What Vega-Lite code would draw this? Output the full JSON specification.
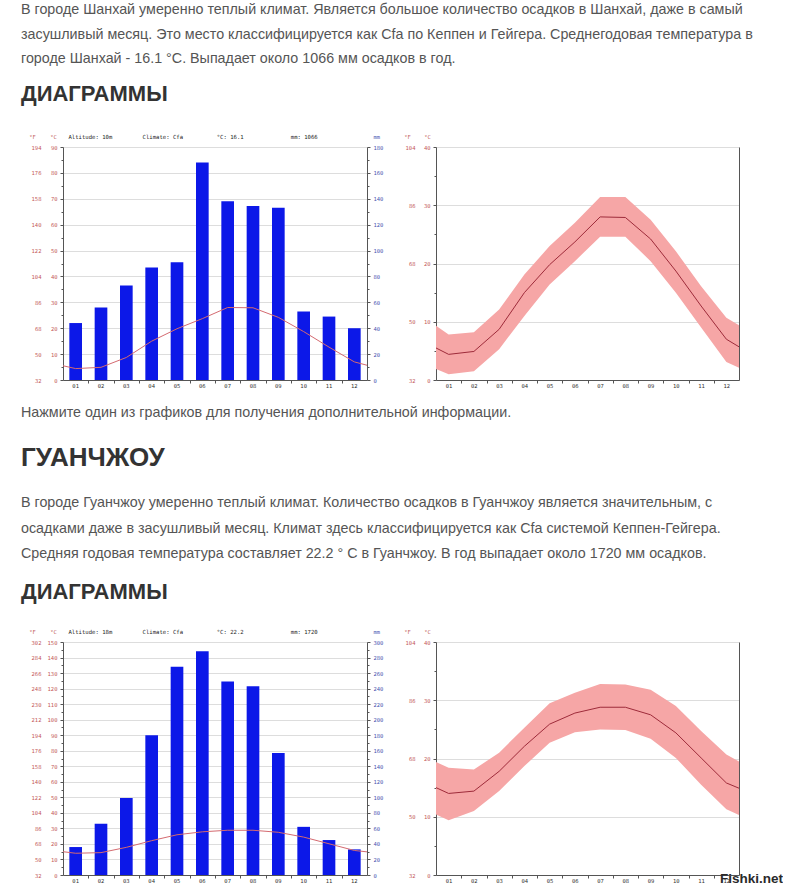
{
"$schema": "https://vega.github.io/schema/vega-lite/v6.json",
"background": "white",
"padding": {"left": 21, "top": 3, "right": 0, "bottom": 0},
"bounds": "flush",
"spacing": 495,
"title": {
  "text": ["В городе Шанхай умеренно теплый климат. Является большое количество осадков в Шанхай, даже в самый", "засушливый месяц. Это место классифицируется как Cfa по Кеппен и Гейгера. Среднегодовая температура в", "городе Шанхай - 16.1 °C. Выпадает около 1066 мм осадков в год."],
  "subtitle": "ДИАГРАММЫ",
  "anchor": "start", "frame": "group", "dx": -42, "offset": 29,
  "font": "Liberation Sans", "fontSize": 14.3, "fontWeight": "normal", "color": "#555555", "lineHeight": 24.6,
  "subtitleFont": "Liberation Sans", "subtitleFontSize": 22, "subtitleFontWeight": "bold", "subtitleColor": "#333333", "subtitlePadding": 17.5
},
"datasets": {
  "sh_p": [
    {"mon": "01", "prcp": 44}, {"mon": "02", "prcp": 56}, {"mon": "03", "prcp": 73}, {"mon": "04", "prcp": 87},
    {"mon": "05", "prcp": 91}, {"mon": "06", "prcp": 168}, {"mon": "07", "prcp": 138}, {"mon": "08", "prcp": 134.5},
    {"mon": "09", "prcp": 133}, {"mon": "10", "prcp": 53}, {"mon": "11", "prcp": 49}, {"mon": "12", "prcp": 40}
  ],
  "sh_t": [
    {"m": 0.5, "tmin": 1.9, "tmean": 5.5, "tmax": 9.3},
    {"m": 1, "tmin": 1.0, "tmean": 4.4, "tmax": 7.8},
    {"m": 2, "tmin": 1.5, "tmean": 4.9, "tmax": 8.2},
    {"m": 3, "tmin": 5.3, "tmean": 8.7, "tmax": 12.1},
    {"m": 4, "tmin": 11.0, "tmean": 15.0, "tmax": 18.1},
    {"m": 5, "tmin": 16.4, "tmean": 19.8, "tmax": 23.0},
    {"m": 6, "tmin": 20.4, "tmean": 23.7, "tmax": 27.0},
    {"m": 7, "tmin": 24.6, "tmean": 28.0, "tmax": 31.4},
    {"m": 8, "tmin": 24.6, "tmean": 27.9, "tmax": 31.4},
    {"m": 9, "tmin": 20.4, "tmean": 24.2, "tmax": 27.5},
    {"m": 10, "tmin": 15.0, "tmean": 18.7, "tmax": 22.1},
    {"m": 11, "tmin": 9.0, "tmean": 12.7, "tmax": 16.1},
    {"m": 12, "tmin": 3.1, "tmean": 7.0, "tmax": 10.7},
    {"m": 12.5, "tmin": 2.1, "tmean": 5.7, "tmax": 9.4}
  ],
  "gz_p": [
    {"mon": "01", "prcp": 36}, {"mon": "02", "prcp": 66}, {"mon": "03", "prcp": 99}, {"mon": "04", "prcp": 180},
    {"mon": "05", "prcp": 268}, {"mon": "06", "prcp": 288}, {"mon": "07", "prcp": 249}, {"mon": "08", "prcp": 243},
    {"mon": "09", "prcp": 157}, {"mon": "10", "prcp": 62}, {"mon": "11", "prcp": 45}, {"mon": "12", "prcp": 33}
  ],
  "gz_t": [
    {"m": 0.5, "tmin": 10.4, "tmean": 15.0, "tmax": 19.4},
    {"m": 1, "tmin": 9.4, "tmean": 14.0, "tmax": 18.4},
    {"m": 2, "tmin": 11.0, "tmean": 14.4, "tmax": 18.1},
    {"m": 3, "tmin": 14.4, "tmean": 17.8, "tmax": 21.0},
    {"m": 4, "tmin": 18.7, "tmean": 22.1, "tmax": 25.3},
    {"m": 5, "tmin": 22.7, "tmean": 25.9, "tmax": 29.5},
    {"m": 6, "tmin": 24.5, "tmean": 27.8, "tmax": 31.3},
    {"m": 7, "tmin": 25.0, "tmean": 28.8, "tmax": 32.8},
    {"m": 8, "tmin": 24.9, "tmean": 28.8, "tmax": 32.7},
    {"m": 9, "tmin": 23.4, "tmean": 27.5, "tmax": 31.8},
    {"m": 10, "tmin": 20.1, "tmean": 24.4, "tmax": 29.0},
    {"m": 11, "tmin": 15.5, "tmean": 20.1, "tmax": 24.7},
    {"m": 12, "tmin": 11.3, "tmean": 15.8, "tmax": 20.7},
    {"m": 12.5, "tmin": 10.3, "tmean": 14.9, "tmax": 19.5}
  ],
  "dummy": [{"k": 1}]
},
"vconcat": [
  {
    "bounds": "flush",
    "spacing": 69,
    "title": {
      "text": "Нажмите один из графиков для получения дополнительной информации.",
      "subtitle": "ГУАНЧЖОУ",
      "orient": "bottom", "anchor": "start", "frame": "group", "dx": -42, "offset": 17,
      "font": "Liberation Sans", "fontSize": 14.3, "fontWeight": "normal", "color": "#555555",
      "subtitleFont": "Liberation Sans", "subtitleFontSize": 26, "subtitleFontWeight": "bold", "subtitleColor": "#333333", "subtitlePadding": 25.5
    },
    "hconcat": [
      {
        "width": 304, "height": 233,
        "resolve": {"scale": {"x": "independent", "y": "independent"}},
        "layer": [
          {
            "data": {"name": "sh_p"},
            "mark": {"type": "bar", "color": "#0c18e8"},
            "encoding": {
              "x": {"field": "mon", "type": "ordinal", "scale": {"paddingInner": 0.5, "paddingOuter": 0.25},
                "axis": {"orient": "bottom", "title": null, "labelAngle": 0, "ticks": false, "labelPadding": 3, "domainColor": "#555555", "labelColor": "#333333"}},
              "y": {"field": "prcp", "type": "quantitative", "scale": {"domain": [0, 180], "nice": false},
                "axis": {"orient": "right", "values": [0,10,20,30,40,50,60,70,80,90,100,110,120,130,140,150,160,170,180],
                  "labelExpr": "datum.value % 20 === 0 ? datum.label : ''",
                  "tickSize": {"condition": {"test": "datum.value % 20 === 0", "value": 3}, "value": 2},
                  "labelPadding": 3, "labelColor": "#4a55b0", "domainColor": "#555555", "tickColor": "#555555",
                  "title": "mm", "titleAngle": 0, "titleAlign": "left", "titleBaseline": "middle", "titleX": 6, "titleY": -11, "titleColor": "#4a55b0"}}
            }
          },
          {
            "data": {"name": "sh_t"},
            "mark": {"type": "line", "color": "#d46a70", "strokeWidth": 1},
            "encoding": {
              "x": {"field": "m", "type": "quantitative", "scale": {"domain": [0.5, 12.5], "nice": false, "zero": false},
                "axis": {"orient": "bottom", "values": [1.5,2.5,3.5,4.5,5.5,6.5,7.5,8.5,9.5,10.5,11.5], "labels": false, "domain": false, "tickSize": 3, "tickColor": "#555555", "title": null}},
              "y": {"field": "tmean", "type": "quantitative", "scale": {"domain": [0, 90], "nice": false},
                "axis": {"orient": "left", "values": [0,5,10,15,20,25,30,35,40,45,50,55,60,65,70,75,80,85,90],
                  "labelExpr": "datum.value % 10 === 0 ? datum.label : ''",
                  "grid": true, "gridColor": "#dddddd",
                  "gridOpacity": {"condition": {"test": "datum.value % 10 === 0", "value": 1}, "value": 0},
                  "tickSize": {"condition": {"test": "datum.value % 10 === 0", "value": 3}, "value": 2},
                  "labelPadding": 3, "labelColor": "#c45a5a", "domainColor": "#555555", "tickColor": "#555555",
                  "title": "°C", "titleAngle": 0, "titleAlign": "center", "titleBaseline": "middle", "titleX": -10, "titleY": -11, "titleColor": "#c45a5a"}}
            }
          },
          {
            "data": {"name": "dummy"},
            "mark": {"type": "point", "opacity": 0},
            "encoding": {
              "x": {"datum": 1, "type": "quantitative", "scale": {"domain": [0.5, 12.5], "nice": false, "zero": false},
                "axis": {"orient": "top", "labels": false, "ticks": false, "domain": false,
                  "title": "Altitude: 10m\u00a0\u00a0\u00a0\u00a0\u00a0\u00a0\u00a0\u00a0\u00a0Climate: Cfa\u00a0\u00a0\u00a0\u00a0\u00a0\u00a0\u00a0\u00a0\u00a0\u00a0°C: 16.1\u00a0\u00a0\u00a0\u00a0\u00a0\u00a0\u00a0\u00a0\u00a0\u00a0\u00a0\u00a0\u00a0\u00a0mm: 1066",
                  "titleAlign": "left", "titleBaseline": "middle", "titleX": 5, "titleY": -11, "titleColor": "#222222", "titleFontSize": 5.6}},
              "y": {"datum": 100, "type": "quantitative", "scale": {"domain": [32, 194], "nice": false, "zero": false},
                "axis": {"orient": "left", "offset": 16, "values": [32,50,68,86,104,122,140,158,176,194], "domain": false, "ticks": false, "labelPadding": 6, "labelColor": "#c45a5a",
                  "title": "°F", "titleAngle": 0, "titleAlign": "center", "titleBaseline": "middle", "titleX": -15, "titleY": -11, "titleColor": "#c45a5a"}}
            }
          }
        ]
      },
      {
        "width": 303, "height": 233,
        "resolve": {"scale": {"x": "independent", "y": "independent"}},
        "layer": [
          {
            "data": {"name": "sh_t"},
            "mark": {"type": "area", "color": "#f6a6a6", "opacity": 1},
            "encoding": {
              "x": {"field": "m", "type": "quantitative", "scale": {"domain": [0.5, 12.5], "nice": false, "zero": false},
                "axis": {"orient": "bottom", "values": [1,2,3,4,5,6,7,8,9,10,11,12], "labelExpr": "(datum.value < 10 ? '0' : '') + datum.value", "ticks": false, "labelPadding": 3, "domainColor": "#555555", "labelColor": "#333333", "title": null}},
              "y": {"field": "tmin", "type": "quantitative", "scale": {"domain": [0, 40], "nice": false},
                "axis": {"orient": "left", "values": [0,5,10,15,20,25,30,35,40],
                  "labelExpr": "datum.value % 10 === 0 ? datum.label : ''",
                  "grid": true, "gridColor": "#dddddd",
                  "gridOpacity": {"condition": {"test": "datum.value % 10 === 0", "value": 1}, "value": 0},
                  "tickSize": {"condition": {"test": "datum.value % 10 === 0", "value": 3}, "value": 2},
                  "labelPadding": 3, "labelColor": "#c45a5a", "domainColor": "#555555", "tickColor": "#555555",
                  "title": "°C", "titleAngle": 0, "titleAlign": "center", "titleBaseline": "middle", "titleX": -9, "titleY": -11, "titleColor": "#c45a5a"}},
              "y2": {"field": "tmax"}
            }
          },
          {
            "data": {"name": "sh_t"},
            "mark": {"type": "line", "color": "#9e2b3a", "strokeWidth": 1},
            "encoding": {
              "x": {"field": "m", "type": "quantitative", "scale": {"domain": [0.5, 12.5], "nice": false, "zero": false}, "axis": null},
              "y": {"field": "tmean", "type": "quantitative", "scale": {"domain": [0, 40], "nice": false},
                "axis": {"orient": "right", "labels": false, "ticks": false, "grid": false, "domainColor": "#555555", "title": null}}
            }
          },
          {
            "data": {"name": "dummy"},
            "mark": {"type": "point", "opacity": 0},
            "encoding": {
              "x": {"datum": 1, "type": "quantitative", "scale": {"domain": [0.5, 12.5], "nice": false, "zero": false},
                "axis": {"orient": "bottom", "values": [1.5,2.5,3.5,4.5,5.5,6.5,7.5,8.5,9.5,10.5,11.5], "labels": false, "domain": false, "tickSize": 3, "tickColor": "#555555", "title": null}},
              "y": {"datum": 50, "type": "quantitative", "scale": {"domain": [32, 104], "nice": false, "zero": false},
                "axis": {"orient": "left", "offset": 16, "values": [32,50,68,86,104], "domain": false, "ticks": false, "labelPadding": 5, "labelColor": "#c45a5a",
                  "title": "°F", "titleAngle": 0, "titleAlign": "center", "titleBaseline": "middle", "titleX": -13, "titleY": -11, "titleColor": "#c45a5a"}}
            }
          }
        ]
      }
    ]
  },
  {
    "bounds": "flush",
    "spacing": 69,
    "title": {
      "text": ["В городе Гуанчжоу умеренно теплый климат. Количество осадков в Гуанчжоу является значительным, с", "осадками даже в засушливый месяц. Климат здесь классифицируется как Cfa системой Кеппен-Гейгера.", "Средняя годовая температура составляет 22.2 ° C в Гуанчжоу. В год выпадает около 1720 мм осадков."],
      "subtitle": "ДИАГРАММЫ",
      "anchor": "start", "frame": "group", "dx": -42, "offset": 26,
      "font": "Liberation Sans", "fontSize": 14.3, "fontWeight": "normal", "color": "#555555", "lineHeight": 25.5,
      "subtitleFont": "Liberation Sans", "subtitleFontSize": 22, "subtitleFontWeight": "bold", "subtitleColor": "#333333", "subtitlePadding": 20.5
    },
    "hconcat": [
      {
        "width": 304, "height": 233,
        "resolve": {"scale": {"x": "independent", "y": "independent"}},
        "layer": [
          {
            "data": {"name": "gz_p"},
            "mark": {"type": "bar", "color": "#0c18e8"},
            "encoding": {
              "x": {"field": "mon", "type": "ordinal", "scale": {"paddingInner": 0.5, "paddingOuter": 0.25},
                "axis": {"orient": "bottom", "title": null, "labelAngle": 0, "ticks": false, "labelPadding": 3, "domainColor": "#555555", "labelColor": "#333333"}},
              "y": {"field": "prcp", "type": "quantitative", "scale": {"domain": [0, 300], "nice": false},
                "axis": {"orient": "right", "values": [0,10,20,30,40,50,60,70,80,90,100,110,120,130,140,150,160,170,180,190,200,210,220,230,240,250,260,270,280,290,300],
                  "labelExpr": "datum.value % 20 === 0 ? datum.label : ''",
                  "tickSize": {"condition": {"test": "datum.value % 20 === 0", "value": 3}, "value": 2},
                  "labelPadding": 3, "labelColor": "#4a55b0", "domainColor": "#555555", "tickColor": "#555555",
                  "title": "mm", "titleAngle": 0, "titleAlign": "left", "titleBaseline": "middle", "titleX": 6, "titleY": -11, "titleColor": "#4a55b0"}}
            }
          },
          {
            "data": {"name": "gz_t"},
            "mark": {"type": "line", "color": "#d46a70", "strokeWidth": 1},
            "encoding": {
              "x": {"field": "m", "type": "quantitative", "scale": {"domain": [0.5, 12.5], "nice": false, "zero": false},
                "axis": {"orient": "bottom", "values": [1.5,2.5,3.5,4.5,5.5,6.5,7.5,8.5,9.5,10.5,11.5], "labels": false, "domain": false, "tickSize": 3, "tickColor": "#555555", "title": null}},
              "y": {"field": "tmean", "type": "quantitative", "scale": {"domain": [0, 150], "nice": false},
                "axis": {"orient": "left", "values": [0,5,10,15,20,25,30,35,40,45,50,55,60,65,70,75,80,85,90,95,100,105,110,115,120,125,130,135,140,145,150],
                  "labelExpr": "datum.value % 10 === 0 ? datum.label : ''",
                  "grid": true, "gridColor": "#dddddd",
                  "gridOpacity": {"condition": {"test": "datum.value % 10 === 0", "value": 1}, "value": 0},
                  "tickSize": {"condition": {"test": "datum.value % 10 === 0", "value": 3}, "value": 2},
                  "labelPadding": 3, "labelColor": "#c45a5a", "domainColor": "#555555", "tickColor": "#555555",
                  "title": "°C", "titleAngle": 0, "titleAlign": "center", "titleBaseline": "middle", "titleX": -10, "titleY": -11, "titleColor": "#c45a5a"}}
            }
          },
          {
            "data": {"name": "dummy"},
            "mark": {"type": "point", "opacity": 0},
            "encoding": {
              "x": {"datum": 1, "type": "quantitative", "scale": {"domain": [0.5, 12.5], "nice": false, "zero": false},
                "axis": {"orient": "top", "labels": false, "ticks": false, "domain": false,
                  "title": "Altitude: 18m\u00a0\u00a0\u00a0\u00a0\u00a0\u00a0\u00a0\u00a0\u00a0Climate: Cfa\u00a0\u00a0\u00a0\u00a0\u00a0\u00a0\u00a0\u00a0\u00a0\u00a0°C: 22.2\u00a0\u00a0\u00a0\u00a0\u00a0\u00a0\u00a0\u00a0\u00a0\u00a0\u00a0\u00a0\u00a0\u00a0mm: 1720",
                  "titleAlign": "left", "titleBaseline": "middle", "titleX": 5, "titleY": -11, "titleColor": "#222222", "titleFontSize": 5.6}},
              "y": {"datum": 100, "type": "quantitative", "scale": {"domain": [32, 302], "nice": false, "zero": false},
                "axis": {"orient": "left", "offset": 16, "values": [32,50,68,86,104,122,140,158,176,194,212,230,248,266,284,302], "domain": false, "ticks": false, "labelPadding": 6, "labelColor": "#c45a5a",
                  "title": "°F", "titleAngle": 0, "titleAlign": "center", "titleBaseline": "middle", "titleX": -15, "titleY": -11, "titleColor": "#c45a5a"}}
            }
          }
        ]
      },
      {
        "width": 303, "height": 233,
        "title": {"text": "Fishki.net", "orient": "bottom", "anchor": "end", "frame": "group", "dx": 44, "dy": -12, "offset": 0, "font": "Liberation Sans", "fontSize": 13.5, "fontWeight": "bold", "color": "#2a2a2a"},
        "resolve": {"scale": {"x": "independent", "y": "independent"}},
        "layer": [
          {
            "data": {"name": "gz_t"},
            "mark": {"type": "area", "color": "#f6a6a6", "opacity": 1},
            "encoding": {
              "x": {"field": "m", "type": "quantitative", "scale": {"domain": [0.5, 12.5], "nice": false, "zero": false},
                "axis": {"orient": "bottom", "values": [1,2,3,4,5,6,7,8,9,10,11,12], "labelExpr": "(datum.value < 10 ? '0' : '') + datum.value", "ticks": false, "labelPadding": 3, "domainColor": "#555555", "labelColor": "#333333", "title": null}},
              "y": {"field": "tmin", "type": "quantitative", "scale": {"domain": [0, 40], "nice": false},
                "axis": {"orient": "left", "values": [0,5,10,15,20,25,30,35,40],
                  "labelExpr": "datum.value % 10 === 0 ? datum.label : ''",
                  "grid": true, "gridColor": "#dddddd",
                  "gridOpacity": {"condition": {"test": "datum.value % 10 === 0", "value": 1}, "value": 0},
                  "tickSize": {"condition": {"test": "datum.value % 10 === 0", "value": 3}, "value": 2},
                  "labelPadding": 3, "labelColor": "#c45a5a", "domainColor": "#555555", "tickColor": "#555555",
                  "title": "°C", "titleAngle": 0, "titleAlign": "center", "titleBaseline": "middle", "titleX": -9, "titleY": -11, "titleColor": "#c45a5a"}},
              "y2": {"field": "tmax"}
            }
          },
          {
            "data": {"name": "gz_t"},
            "mark": {"type": "line", "color": "#9e2b3a", "strokeWidth": 1},
            "encoding": {
              "x": {"field": "m", "type": "quantitative", "scale": {"domain": [0.5, 12.5], "nice": false, "zero": false}, "axis": null},
              "y": {"field": "tmean", "type": "quantitative", "scale": {"domain": [0, 40], "nice": false},
                "axis": {"orient": "right", "labels": false, "ticks": false, "grid": false, "domainColor": "#555555", "title": null}}
            }
          },
          {
            "data": {"name": "dummy"},
            "mark": {"type": "point", "opacity": 0},
            "encoding": {
              "x": {"datum": 1, "type": "quantitative", "scale": {"domain": [0.5, 12.5], "nice": false, "zero": false},
                "axis": {"orient": "bottom", "values": [1.5,2.5,3.5,4.5,5.5,6.5,7.5,8.5,9.5,10.5,11.5], "labels": false, "domain": false, "tickSize": 3, "tickColor": "#555555", "title": null}},
              "y": {"datum": 50, "type": "quantitative", "scale": {"domain": [32, 104], "nice": false, "zero": false},
                "axis": {"orient": "left", "offset": 16, "values": [32,50,68,86,104], "domain": false, "ticks": false, "labelPadding": 5, "labelColor": "#c45a5a",
                  "title": "°F", "titleAngle": 0, "titleAlign": "center", "titleBaseline": "middle", "titleX": -13, "titleY": -11, "titleColor": "#c45a5a"}}
            }
          }
        ]
      }
    ]
  }
],
"config": {
  "view": {"stroke": null},
  "axis": {"labelFont": "DejaVu Sans Mono", "labelFontSize": 5.5, "titleFont": "DejaVu Sans Mono", "titleFontSize": 5.5, "titleFontWeight": "normal", "grid": false, "domainWidth": 1, "tickWidth": 1}
}
}
